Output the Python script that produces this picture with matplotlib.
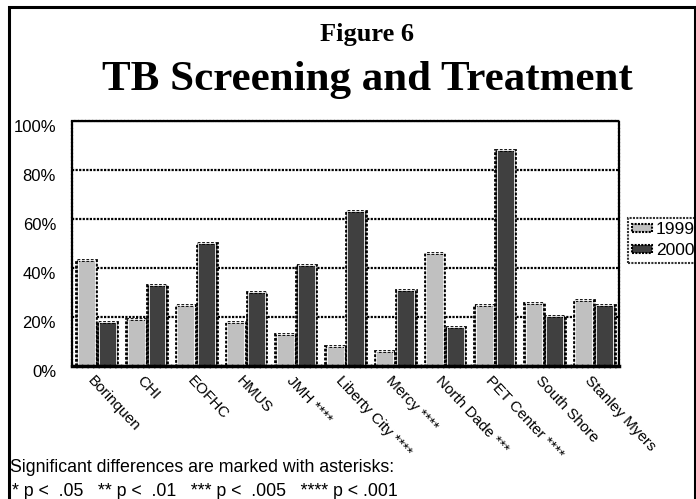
import matplotlib
matplotlib.use("Agg")
import matplotlib.pyplot as plt
from matplotlib.patches import Rectangle, Patch
from matplotlib.ticker import PercentFormatter
import matplotlib.transforms as mtransforms
import numpy as np

categories = ["Borinquen", "CHI", "EOFHC", "HMUS", "JMH ****", "Liberty City ****",
              "Mercy ****", "North Dade ***", "PET Center ****", "South Shore", "Stanley Myers"]
values_1999 = [43, 19, 25, 18, 13, 8, 6, 46, 25, 25.5, 27]
values_2000 = [18, 33, 50, 30, 41, 63, 31, 16, 88, 20.5, 24.7]
series_labels = ["1999", "2000"]
yticks = [0, 20, 40, 60, 80, 100]

W, H = 696, 499
fig = plt.figure(figsize=(W / 100, H / 100), dpi=100)
fig.patch.set_facecolor("white")

left, right, top, bottom = 72, 619, 120.5, 366
ax = fig.add_axes([left / W, 1 - bottom / H, (right - left) / W, (bottom - top) / H])

c1999 = "#C0C0C0"
c2000 = "#404040"
x = np.arange(len(categories))
bw = 0.40
dot = (0, (1, 0.6))
for offs, vals, col in [(-0.21, values_1999, c1999), (0.21, values_2000, c2000)]:
    ax.bar(x + offs, vals, width=bw, color=col, edgecolor="black",
           linewidth=2.0, linestyle=dot, zorder=3)
    ax.bar(x + offs, vals, width=bw - 0.06, color="none", edgecolor="white",
           linewidth=0.6, zorder=3.5)

ax.set_xlim(-0.5, len(categories) - 0.5)
ax.set_ylim(0, 100)
ax.set_yticks(yticks)
ax.yaxis.set_major_formatter(PercentFormatter(decimals=0))
ax.grid(axis="y", color="black", linestyle=dot, linewidth=1.6, zorder=1)
ax.set_axisbelow(True)

for s in ["top", "left", "right"]:
    ax.spines[s].set_linestyle(dot)
    ax.spines[s].set_linewidth(1.6)
ax.spines["bottom"].set_linewidth(2.5)
ax.spines["bottom"].set_linestyle(dot)
ax.spines["bottom"].set_zorder(4)

ax.tick_params(axis="y", length=0, pad=11.5, labelsize=12)
shift = mtransforms.ScaledTranslation(0, -5 / 100, fig.dpi_scale_trans)
for lab in ax.get_yticklabels():
    lab.set_fontfamily(["Liberation Sans", "DejaVu Sans"])
    lab.set_transform(lab.get_transform() + shift)

ax.set_xticks(x)
ax.set_xticklabels([])
ax.tick_params(axis="x", length=0)
for i, cat in enumerate(categories):
    ax.annotate(cat, xy=(i, 0), xycoords=("data", "axes fraction"),
                xytext=(-5, -9), textcoords="offset points",
                rotation=-47, rotation_mode="anchor", ha="left", va="center",
                fontsize=11, family=["Liberation Sans Narrow", "Liberation Sans", "DejaVu Sans"])

# legend
handles = [Patch(facecolor=c1999, edgecolor="black", linewidth=1.5, linestyle=dot),
           Patch(facecolor=c2000, edgecolor="black", linewidth=1.5, linestyle=dot)]
leg = fig.legend(handles, series_labels, loc="upper left",
                 bbox_to_anchor=(628 / W, 1 - 218 / H), bbox_transform=fig.transFigure,
                 borderaxespad=0, fancybox=False, frameon=True,
                 handlelength=1.15, handleheight=0.35, handletextpad=0.2,
                 labelspacing=0.35, borderpad=0.25,
                 prop={"family": ["Liberation Sans", "DejaVu Sans"], "size": 12.5})
leg.get_frame().set_edgecolor("black")
leg.get_frame().set_linestyle(dot)
leg.get_frame().set_linewidth(1.5)

# titles
fig.text(367 / W, 1 - 35 / H, "Figure 6", ha="center", va="center",
         fontsize=19, fontweight="bold", family=["Liberation Serif", "DejaVu Serif"])
fig.text(367 / W, 1 - 80 / H, "TB Screening and Treatment", ha="center", va="center",
         fontsize=31, fontweight="bold", family=["Liberation Serif", "DejaVu Serif"])

# footnote
fig.text(10 / W, 1 - 468 / H, "Significant differences are marked with asterisks:",
         ha="left", va="center", fontsize=12.8, family=["Liberation Sans", "DejaVu Sans"])
fig.text(12 / W, 1 - 491 / H, "* p <  .05   ** p <  .01   *** p <  .005   **** p < .001",
         ha="left", va="center", fontsize=12.8, family=["Liberation Sans", "DejaVu Sans"])

# outer frame
fig.patches.append(Rectangle((8.5 / W, -0.2), (694.5 - 8.5) / W, 1.2 - 7 / H,
                             transform=fig.transFigure, fill=False,
                             edgecolor="black", linewidth=2.2, zorder=10))

fig.savefig("out.png", dpi=100, facecolor="white")
